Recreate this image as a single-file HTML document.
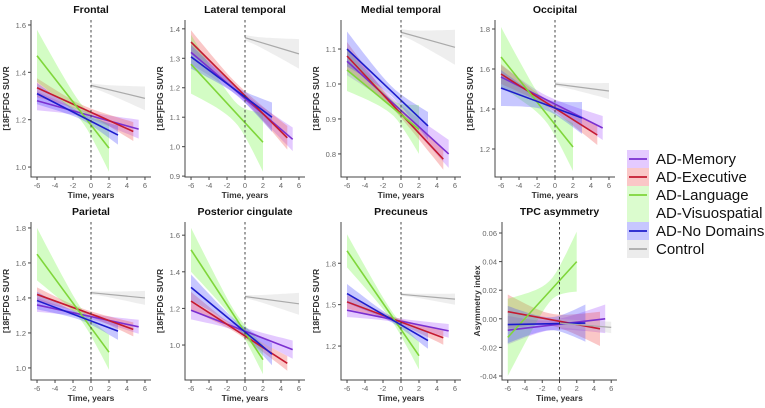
<!DOCTYPE html>
<html><head><meta charset="utf-8"><style>
body{margin:0;background:#fff;}
svg{display:block;font-family:"Liberation Sans",Arial,sans-serif;}
</style></head><body>
<svg id="chart" width="765" height="408" viewBox="0 0 765 408"></svg>
<script>
const groupNames = ["AD-Memory","AD-Executive","AD-Language","AD-No Domains","Control"];
const groupStartX = [-6,-6,-6,-6,0];
const groupEndX = [5.3,4.7,2,3,6];
const panelTitles = ["Frontal","Lateral temporal","Medial temporal","Occipital","Parietal","Posterior cingulate","Precuneus","TPC asymmetry"];
const yTicks = [[1.0,1.2,1.4,1.6],[0.9,1.0,1.1,1.2,1.3,1.4],[0.8,0.9,1.0,1.1],[1.2,1.4,1.6,1.8],[1.0,1.2,1.4,1.6,1.8],[1.0,1.2,1.4,1.6],[1.2,1.5,1.8],[-0.04,-0.02,0.0,0.02,0.04,0.06]];
const yTickLabels = [["1.0","1.2","1.4","1.6"],["0.9","1.0","1.1","1.2","1.3","1.4"],["0.8","0.9","1.0","1.1"],["1.2","1.4","1.6","1.8"],["1.0","1.2","1.4","1.6","1.8"],["1.0","1.2","1.4","1.6"],["1.2","1.5","1.8"],["-0.04","-0.02","0.00","0.02","0.04","0.06"]];
const yDomains = [[0.958,1.621],[0.897,1.43],[0.734,1.183],[1.06,1.845],[0.931,1.834],[0.809,1.672],[0.954,2.099],[-0.0428,0.0677]];
const xTicks = [-6,-4,-2,0,2,4,6];
const startVals = [
 [1.28,1.335,1.47,1.31,1.345],
 [1.32,1.355,1.28,1.305,1.37],
 [1.065,1.08,1.04,1.10,1.148],
 [1.56,1.575,1.66,1.505,1.525],
 [1.36,1.42,1.65,1.385,1.43],
 [1.19,1.24,1.52,1.315,1.265],
 [1.46,1.52,1.89,1.58,1.575],
 [-0.008,0.005,-0.013,-0.004,-0.003]];
const endVals = [
 [1.16,1.15,1.08,1.135,1.29],
 [1.025,1.03,1.015,1.10,1.315],
 [0.80,0.785,0.87,0.88,1.105],
 [1.305,1.27,1.21,1.355,1.49],
 [1.235,1.22,1.09,1.21,1.40],
 [0.975,0.90,0.92,0.95,1.225],
 [1.31,1.26,1.13,1.24,1.54],
 [0.0,-0.007,0.04,-0.003,-0.006]];
const ciStart = [
 [0.04,0.04,0.11,0.045,0.01],[0.04,0.04,0.1,0.04,0.01],[0.04,0.04,0.06,0.05,0.01],[0.06,0.05,0.15,0.09,0.01],
 [0.04,0.04,0.15,0.05,0.01],[0.05,0.05,0.12,0.07,0.01],[0.05,0.05,0.12,0.07,0.01],[0.01,0.012,0.027,0.013,0.003]];
const ciEnd = [
 [0.04,0.04,0.1,0.04,0.05],[0.04,0.04,0.1,0.05,0.05],[0.04,0.03,0.07,0.04,0.05],[0.06,0.05,0.12,0.08,0.04],
 [0.04,0.04,0.1,0.05,0.04],[0.05,0.04,0.08,0.06,0.06],[0.05,0.05,0.1,0.06,0.04],[0.01,0.012,0.021,0.013,0.004]];

const lineColors = ["#7a2fd0","#c41a30","#7fd63a","#1c1ccc","#aaaaaa"];
const bandColors = ["rgba(165,80,255,0.3)","rgba(240,70,70,0.3)","rgba(110,245,60,0.3)","rgba(70,70,255,0.3)","rgba(200,200,200,0.3)"];
const panelLeft = [31,185,341,495,31,185,341,502];
const panelTop = [20,20,20,20,222,222,222,222];
const panelBottom = [177,177,177,177,380,380,380,380];
const panelW = [120,120,120,120,120,120,120,115];
const yLabels = ["[18F]FDG SUVR","[18F]FDG SUVR","[18F]FDG SUVR","[18F]FDG SUVR","[18F]FDG SUVR","[18F]FDG SUVR","[18F]FDG SUVR","Asymmetry index"];

const NS="http://www.w3.org/2000/svg";
const svg=document.getElementById('chart');
function mk(tag,attrs,parent){const e=document.createElementNS(NS,tag);for(const k in attrs)e.setAttribute(k,attrs[k]);(parent||svg).appendChild(e);return e;}

for(let p=0;p<8;p++){
  const g=mk('g',{});
  
  
  const L=panelLeft[p],T=panelTop[p],B=panelBottom[p],W=panelW[p];
  const xs=v=>L+(v+6.67)/13.34*W;
  const [d0,d1]=yDomains[p];
  const ys=v=>B-(v-d0)/(d1-d0)*(B-T);
  // bands
  for(let k=0;k<5;k++){
    const x0=groupStartX[k],x1=groupEndX[k];
    const c=k===4?0:-1;
    const m=k===4?ciStart[p][k]:0.35*Math.min(ciStart[p][k],ciEnd[p][k]);
    const hw=x=>{const ref=x<c?ciStart[p][k]:ciEnd[p][k];const ex=x<c?x0:x1;const dd=Math.abs(ex-c)||1;const s2=Math.max(ref*ref-m*m,0)/(dd*dd);return Math.sqrt(m*m+s2*(x-c)*(x-c));};
    const val=x=>startVals[p][k]+(endVals[p][k]-startVals[p][k])*(x-x0)/(x1-x0);
    const up=[],lo=[];
    for(let i=0;i<=20;i++){const x=x0+(x1-x0)*i/20;up.push(xs(x).toFixed(1)+','+ys(val(x)+hw(x)).toFixed(1));lo.unshift(xs(x).toFixed(1)+','+ys(val(x)-hw(x)).toFixed(1));}
    const band=mk('polygon',{points:up.concat(lo).join(' '),fill:bandColors[k]},g);
    
    
  }
  for(let k=0;k<5;k++){
    const ln=mk('line',{x1:xs(groupStartX[k]),y1:ys(startVals[p][k]),x2:xs(groupEndX[k]),y2:ys(endVals[p][k]),stroke:lineColors[k],'stroke-width':k===4?1.2:1.6},g);
    
    
  }
  const vl=mk('line',{x1:xs(0),y1:T,x2:xs(0),y2:B,stroke:'#333','stroke-width':0.9,'stroke-dasharray':'2.5,2.5'},g);
  
  
  const ax=mk('path',{d:`M${L},${T} L${L},${B} L${L+W},${B}`,fill:'none',stroke:'#444','stroke-width':1},g);
  
  
  yTicks[p].forEach((t,i)=>{
    mk('line',{x1:L-3,x2:L,y1:ys(t),y2:ys(t),stroke:'#444'},g);
    const tx=mk('text',{x:L-5,y:ys(t)+3,'text-anchor':'end','font-size':7.5,fill:'#666'},g);
    tx.textContent=yTickLabels[p][i];
    
    
  });
  xTicks.forEach(t=>{
    mk('line',{x1:xs(t),x2:xs(t),y1:B,y2:B+3,stroke:'#444'},g);
    const tx=mk('text',{x:xs(t),y:B+11,'text-anchor':'middle','font-size':7.5,fill:'#666'},g);
    tx.textContent=String(t);
    
    
  });
  const ti=mk('text',{x:L+W/2,y:T-7,'text-anchor':'middle','font-size':10.5,'font-weight':'bold',fill:'#111'},g);
  ti.textContent=panelTitles[p];
  
  
  const xl=mk('text',{x:L+W/2,y:B+21,'text-anchor':'middle','font-size':8.5,'font-weight':'bold',fill:'#333'},g);
  xl.textContent='Time, years';
  
  
  const yx=L-22,yy=(T+B)/2;
  const yl=mk('text',{x:yx,y:yy,'text-anchor':'middle','font-size':8.5,'font-weight':'bold',fill:'#333',transform:`rotate(-90 ${yx} ${yy})`},g);
  yl.textContent=yLabels[p];
  
  
}
// legend
const legendLabels=["AD-Memory","AD-Executive","AD-Language","AD-Visuospatial","AD-No Domains","Control"];
const legendBand=["rgba(165,80,255,0.3)","rgba(240,70,70,0.3)","rgba(110,245,60,0.25)","rgba(110,245,60,0.25)","rgba(70,70,255,0.3)","rgba(200,200,200,0.35)"];
const legendLine=["#7a2fd0","#c41a30","#7fd63a",null,"#1c1ccc","#aaaaaa"];
const lg=mk('g',{});


legendLabels.forEach((lab,i)=>{
  const y=159+i*18;
  const e=mk('g',{},lg);
  
  
  mk('rect',{x:627,y:y-9,width:22,height:18,fill:legendBand[i]},e);
  if(legendLine[i])mk('line',{x1:629,x2:647,y1:y,y2:y,stroke:legendLine[i],'stroke-width':1.8},e);
  const t=mk('text',{x:656,y:y+5,'font-size':15,fill:'#111'},e);
  t.textContent=lab;
});
</script>
</body></html>
